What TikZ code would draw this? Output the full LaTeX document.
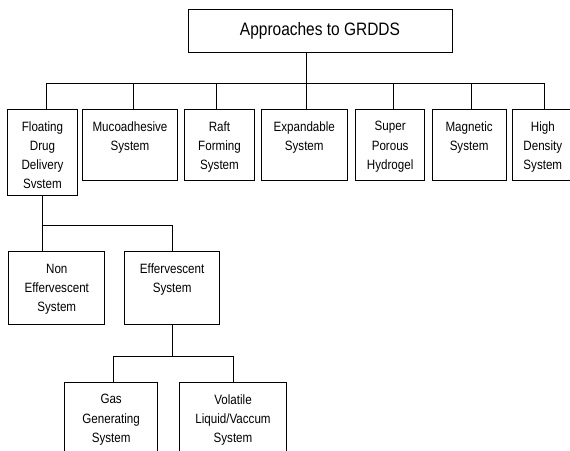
\documentclass[tikz,border=0pt]{standalone}
\usepackage{fontspec}
\setmainfont[FakeStretch=0.86]{Liberation Sans}
\tikzset{
  sysbox/.style={draw, anchor=north west, inner sep=0pt},
  sysname/.style={anchor=north, align=center, inner sep=0pt, yshift=-12.3pt,
    font=\fontsize{13.5}{19.3}\selectfont}
}
\begin{document}
\begin{tikzpicture}[x=1pt,y=-1pt,line width=1pt]
  \useasboundingbox (0,0) rectangle (570,450);
  \clip (0,0) rectangle (570,450);
  % title
  \node[draw, minimum width=264, minimum height=43,
    font=\fontsize{18}{20}\selectfont] (grdds) at (320,30.5) {Approaches to GRDDS};
  % first level
  \node[sysbox, minimum width=70, minimum height=86.5,
    label={[sysname]north:Floating\\Drug\\Delivery\\Svstem}] (float) at (7,108.5) {};
  \node[sysbox, minimum width=95, minimum height=71.5,
    label={[sysname]north:Mucoadhesive\\System}] (muco) at (82,108.5) {};
  \node[sysbox, minimum width=70, minimum height=71.5,
    label={[sysname]north:Raft\\Forming\\System}] (raft) at (184,108.5) {};
  \node[sysbox, minimum width=85.5, minimum height=71.5,
    label={[sysname]north:Expandable\\System}] (expand) at (261,108.5) {};
  \node[sysbox, minimum width=69.3, minimum height=71.5,
    label={[sysname]north:Super\\Porous\\Hydrogel}] (porous) at (355,108.5) {};
  \node[sysbox, minimum width=74.2, minimum height=71.5,
    label={[sysname]north:Magnetic\\System}] (magnet) at (431.5,108.5) {};
  \node[sysbox, minimum width=60, minimum height=71.5,
    label={[sysname]north:High\\Density\\System}] (high) at (512.3,108.5) {};
  % second level
  \node[sysbox, minimum width=96, minimum height=72.5,
    label={[sysname]north:Non\\Effervescent\\System}] (noneff) at (8.3,251) {};
  \node[sysbox, minimum width=94.7, minimum height=72.5,
    label={[sysname]north:Effervescent\\System}] (eff) at (124.3,251) {};
  % third level
  \node[sysbox, minimum width=93.3, minimum height=80,
    label={[sysname]north:Gas\\Generating\\System}] (gas) at (64,381.7) {};
  \node[sysbox, minimum width=107, minimum height=80,
    label={[sysname]north:Volatile\\Liquid/Vaccum\\System}] (volatile) at (179,381.7) {};
  % connectors
  \coordinate (bus) at (0,83);
  \coordinate (bus2) at (0,225);
  \coordinate (bus3) at (0,356);
  \draw ([xshift=2.5]expand.north |- grdds.south) -- ([xshift=2.5]expand.north |- bus);
  \draw ([xshift=3.7]float.north |- bus) -- ([xshift=1.7]high.north |- bus);
  \foreach \n/\dx in {float/3.7, muco/3.8, raft/-3, expand/2.5, porous/3.6, magnet/2.4, high/1.7}
    \draw ([xshift=\dx]\n.north) -- ([xshift=\dx]\n.north |- bus);
  \draw (float.south) -- (float.south |- noneff.north);
  \draw (float.south |- bus2) -- (eff.north |- bus2) -- (eff.north);
  \draw (eff.south) -- (eff.south |- bus3);
  \draw ([xshift=2.6]gas.north) |- (volatile.north |- bus3) -- (volatile.north);
\end{tikzpicture}
\end{document}
